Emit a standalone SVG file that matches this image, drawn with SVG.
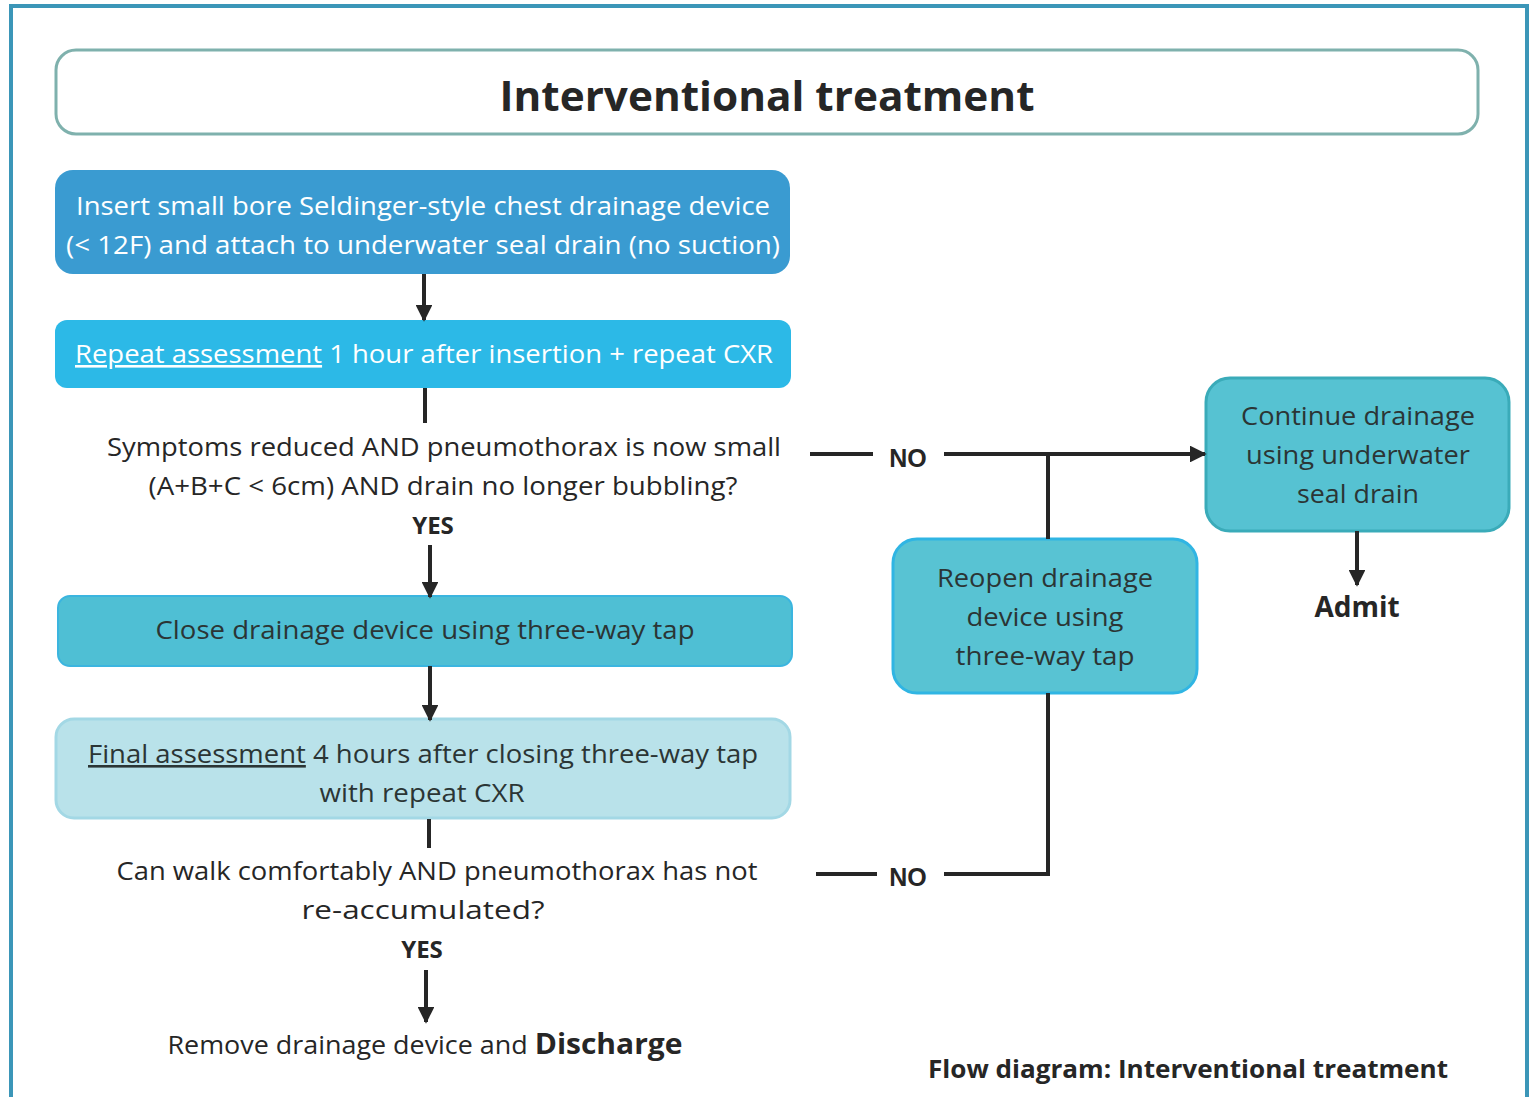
<svg xmlns="http://www.w3.org/2000/svg" width="1530" height="1097" viewBox="0 0 1530 1097">
<defs>
<marker id="ah" viewBox="0 0 10 10" refX="9" refY="5" markerWidth="4.2" markerHeight="4.2" orient="auto" markerUnits="strokeWidth">
<path d="M0,0 L10,5 L0,10 z" fill="#262626"/>
</marker>
</defs>
<style>
text{font-family:"Open Sans","Noto Sans","Liberation Sans",sans-serif;font-size:26px;text-anchor:middle}
.w{fill:#ffffff}
.d{fill:#2b3535}
.k{fill:#262626}
.b{font-weight:bold}
.ln{stroke:#262626;stroke-width:4;fill:none}
.ar{stroke:#262626;stroke-width:4;fill:none;marker-end:url(#ah)}
</style>
<rect x="11" y="6" width="1516" height="1095" fill="#ffffff" stroke="#3b96b8" stroke-width="4"/>
<g id="title">
<rect x="56" y="50" width="1422" height="84" rx="20" fill="#ffffff" stroke="#7fb1ad" stroke-width="3"/>
<text x="767" y="111" class="k b" style="font-size:42px" textLength="535" lengthAdjust="spacingAndGlyphs">Interventional treatment</text>
</g>
<g id="insert">
<rect x="55" y="170" width="735" height="104" rx="18" fill="#3a9bd1"/>
<text x="423" y="215" class="w" textLength="694" lengthAdjust="spacingAndGlyphs">Insert small bore Seldinger-style chest drainage device</text>
<text x="423" y="254" class="w" textLength="714" lengthAdjust="spacingAndGlyphs">(&lt; 12F) and attach to underwater seal drain (no suction)</text>
</g>
<g id="repeat">
<rect x="55" y="320" width="736" height="68" rx="12" fill="#2cb9e7"/>
<text x="424" y="363" class="w" textLength="698" lengthAdjust="spacingAndGlyphs"><tspan text-decoration="underline">Repeat assessment</tspan> 1 hour after insertion + repeat CXR</text>
</g>
<g id="decision1">
<text x="444" y="456" class="k" textLength="674" lengthAdjust="spacingAndGlyphs">Symptoms reduced AND pneumothorax is now small</text>
<text x="443" y="495" class="k" textLength="589" lengthAdjust="spacingAndGlyphs">(A+B+C &lt; 6cm) AND drain no longer bubbling?</text>
<text x="433" y="534" class="k b" style="font-size:24px">YES</text>
</g>
<g id="close">
<rect x="58" y="596" width="734" height="70" rx="12" fill="#4fbfd4" stroke="#3bb5df" stroke-width="2"/>
<text x="425" y="639" class="d" textLength="539" lengthAdjust="spacingAndGlyphs">Close drainage device using three-way tap</text>
</g>
<g id="final">
<rect x="56" y="719" width="734" height="99" rx="18" fill="#b9e2ea" stroke="#a3d8e5" stroke-width="3"/>
<text x="423" y="763" class="d" textLength="670" lengthAdjust="spacingAndGlyphs"><tspan text-decoration="underline">Final assessment</tspan> 4 hours after closing three-way tap</text>
<text x="422" y="802" class="d" textLength="205" lengthAdjust="spacingAndGlyphs">with repeat CXR</text>
</g>
<g id="decision2">
<text x="437" y="880" class="k" textLength="641" lengthAdjust="spacingAndGlyphs">Can walk comfortably AND pneumothorax has not</text>
<text x="423" y="919" class="k" textLength="243" lengthAdjust="spacingAndGlyphs">re-accumulated?</text>
<text x="422" y="958" class="k b" style="font-size:24px">YES</text>
</g>
<g id="discharge">
<text x="425" y="1054" class="k" textLength="515" lengthAdjust="spacingAndGlyphs">Remove drainage device and <tspan class="b" style="font-size:29px">Discharge</tspan></text>
</g>
<g id="continue">
<rect x="1206" y="378" width="303" height="153" rx="24" fill="#56c2d2" stroke="#3aabb9" stroke-width="3"/>
<text x="1358" y="425" class="d" textLength="234" lengthAdjust="spacingAndGlyphs">Continue drainage</text>
<text x="1358" y="464" class="d" textLength="224" lengthAdjust="spacingAndGlyphs">using underwater</text>
<text x="1358" y="503" class="d" textLength="122" lengthAdjust="spacingAndGlyphs">seal drain</text>
</g>
<g id="admit">
<text x="1357" y="617" class="k b" style="font-size:28px">Admit</text>
</g>
<g id="reopen">
<rect x="893" y="539" width="304" height="154" rx="24" fill="#58c3d3" stroke="#30b5e3" stroke-width="3"/>
<text x="1045" y="587" class="d" textLength="216" lengthAdjust="spacingAndGlyphs">Reopen drainage</text>
<text x="1045" y="626" class="d" textLength="157" lengthAdjust="spacingAndGlyphs">device using</text>
<text x="1045" y="665" class="d" textLength="179" lengthAdjust="spacingAndGlyphs">three-way tap</text>
</g>
<g id="connectors">
<line class="ar" x1="424" y1="274" x2="424" y2="320"/>
<line class="ln" x1="425" y1="388" x2="425" y2="423"/>
<line class="ar" x1="430" y1="545" x2="430" y2="597"/>
<line class="ar" x1="430" y1="666" x2="430" y2="720"/>
<line class="ln" x1="429" y1="819" x2="429" y2="848"/>
<line class="ar" x1="426" y1="970" x2="426" y2="1022"/>
<line class="ar" x1="1357" y1="531" x2="1357" y2="585"/>
<line class="ln" x1="810" y1="454" x2="873" y2="454"/>
<line class="ar" x1="944" y1="454" x2="1205" y2="454"/>
<line class="ln" x1="1048" y1="454" x2="1048" y2="539"/>
<polyline class="ln" points="1048,693 1048,874 944,874"/>
<line class="ln" x1="816" y1="874" x2="877" y2="874"/>
<text x="908" y="467" class="k b" style="font-size:25px;font-family:'Liberation Sans',Arial,sans-serif">NO</text>
<text x="908" y="886" class="k b" style="font-size:25px;font-family:'Liberation Sans',Arial,sans-serif">NO</text>
</g>
<text x="1188" y="1078" class="k b" style="font-size:25px" textLength="520" lengthAdjust="spacingAndGlyphs">Flow diagram: Interventional treatment</text>
</svg>
